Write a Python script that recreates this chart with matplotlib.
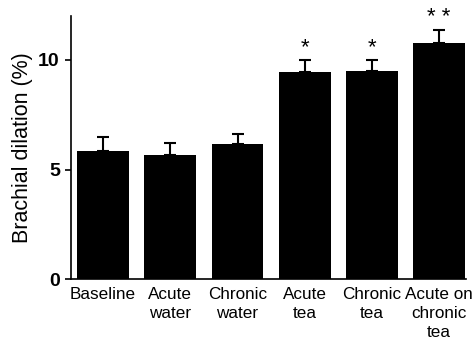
import matplotlib.pyplot as plt
import numpy as np

plt.rcParams['font.family'] = ['Liberation Sans', 'DejaVu Sans']

groups = ['Baseline', 'Acute\nwater', 'Chronic\nwater', 'Acute\ntea', 'Chronic\ntea', 'Acute on\nchronic\ntea']
dilation = [5.84, 5.65, 6.16, 9.44, 9.50, 10.76]
sem = [0.66, 0.58, 0.47, 0.56, 0.50, 0.62]
marks = ['', '', '', '*', '*', '* *']

fig = plt.figure(figsize=(4.76, 3.51), dpi=100)
ax = fig.add_axes([0.149, 0.205, 0.83, 0.749])

x = np.arange(len(groups))
ax.bar(x, dilation, width=0.77, color='black', zorder=2)
ax.errorbar(x, dilation, yerr=[np.zeros(len(sem)), sem], fmt='none',
            ecolor='black', elinewidth=1.5, capsize=4.3, capthick=1.5, zorder=1)

for xi, h, e, m in zip(x, dilation, sem, marks):
    if m:
        ax.text(xi, h + e + 0.1, m, ha='center', va='bottom', fontsize=16)

ax.set_xlim(-0.48, 5.4)
ax.set_ylim(0, 12)
ax.set_yticks([0, 5, 10])
ax.set_yticklabels(['0', '5', '10'], fontweight='bold', fontsize=14)
ax.set_xticks(x)
ax.set_xticklabels(groups, fontsize=12.3, linespacing=1.3, va='top')
ax.tick_params(axis='x', length=0, pad=6)
ax.tick_params(axis='y', length=4, width=1.2, pad=4)
ax.set_ylabel('Brachial dilation (%)', fontsize=15.5, labelpad=4)

for s in ['top', 'right']:
    ax.spines[s].set_visible(False)
ax.spines['left'].set_linewidth(1.2)
ax.spines['bottom'].set_linewidth(1.2)

fig.savefig('out.png', dpi=100)
